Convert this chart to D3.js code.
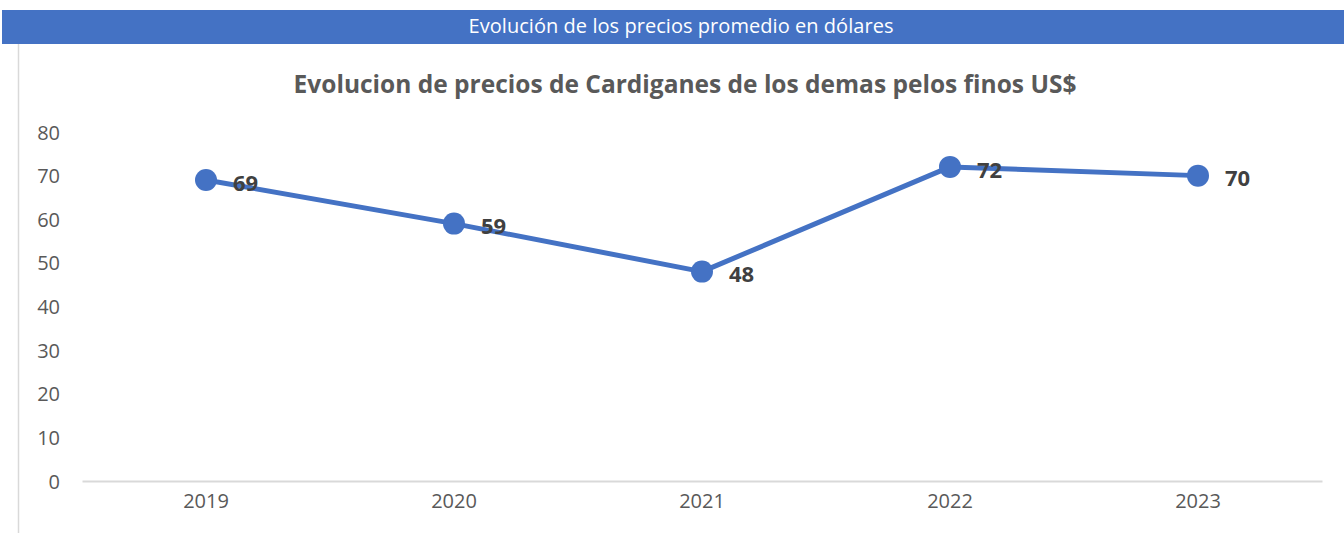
<!DOCTYPE html>
<html><head><meta charset="utf-8">
<script src="https://cdn.jsdelivr.net/npm/d3@7"></script>
<style>body{margin:0;background:#fff}svg{display:block}</style>
</head><body>
<svg id="c" width="1344" height="533"></svg>
<script>
const categories = ["2019","2020","2021","2022","2023"];
const values = [69, 59, 48, 72, 70];
const yTicks = [0,10,20,30,40,50,60,70,80];
const bannerText = "Evolución de los precios promedio en dólares";
const titleText = "Evolucion de precios de Cardiganes de los demas pelos finos US$";

const svg = d3.select("#c");
const font = "'Open Sans', Lato, sans-serif";

svg.append("rect").attr("x",2).attr("y",10).attr("width",1342).attr("height",34).attr("fill","#4472C4");
svg.append("text").attr("x",681).attr("y",33).attr("text-anchor","middle")
  .attr("fill","#fff").attr("font-family",font).attr("font-size",20).attr("textLength",425).text(bannerText);
svg.append("line").attr("x1",18.5).attr("x2",18.5).attr("y1",44).attr("y2",533).attr("stroke","#d9d9d9").attr("stroke-width",1.5);

svg.append("text").attr("x",685).attr("y",93).attr("text-anchor","middle")
  .attr("fill","#595959").attr("font-family",font).attr("font-weight","bold").attr("font-size",24.5).text(titleText);

const x = d3.scaleBand().domain(categories).range([82,1322]).padding(0);
const y = d3.scaleLinear().domain([0,80]).range([481,132]);

const yAxis = svg.append("g").attr("transform","translate(60,0)")
  .call(d3.axisLeft(y).tickValues(yTicks).tickSize(0).tickPadding(0));
yAxis.select(".domain").remove();
yAxis.selectAll("text").attr("fill","#595959").attr("font-family",font).attr("font-size",20).attr("dy","0.35em");

const xAxis = svg.append("g").attr("transform","translate(0,481)")
  .call(d3.axisBottom(x).tickSize(0).tickPadding(13));
xAxis.select(".domain").attr("stroke","#d9d9d9").attr("stroke-width",2);
xAxis.selectAll("text").attr("fill","#595959").attr("font-family",font).attr("font-size",20);

const cx = d => x(d) + x.bandwidth()/2;
const line = d3.line().x((d,i)=>cx(categories[i])).y(d=>y(d));
svg.append("path").datum(values).attr("d",line).attr("fill","none")
  .attr("stroke","#4472C4").attr("stroke-width",5).attr("stroke-linejoin","round");
svg.selectAll("circle.pt").data(values).join("circle").attr("class","pt")
  .attr("cx",(d,i)=>cx(categories[i])).attr("cy",d=>y(d)).attr("r",11).attr("fill","#4472C4");
svg.selectAll("text.lbl").data(values).join("text").attr("class","lbl")
  .attr("x",(d,i)=>cx(categories[i])+27).attr("y",d=>y(d)+3).attr("dy","0.35em")
  .attr("fill","#404040").attr("font-family",font).attr("font-weight","bold").attr("font-size",22).text(d=>d);
</script>
</body></html>
